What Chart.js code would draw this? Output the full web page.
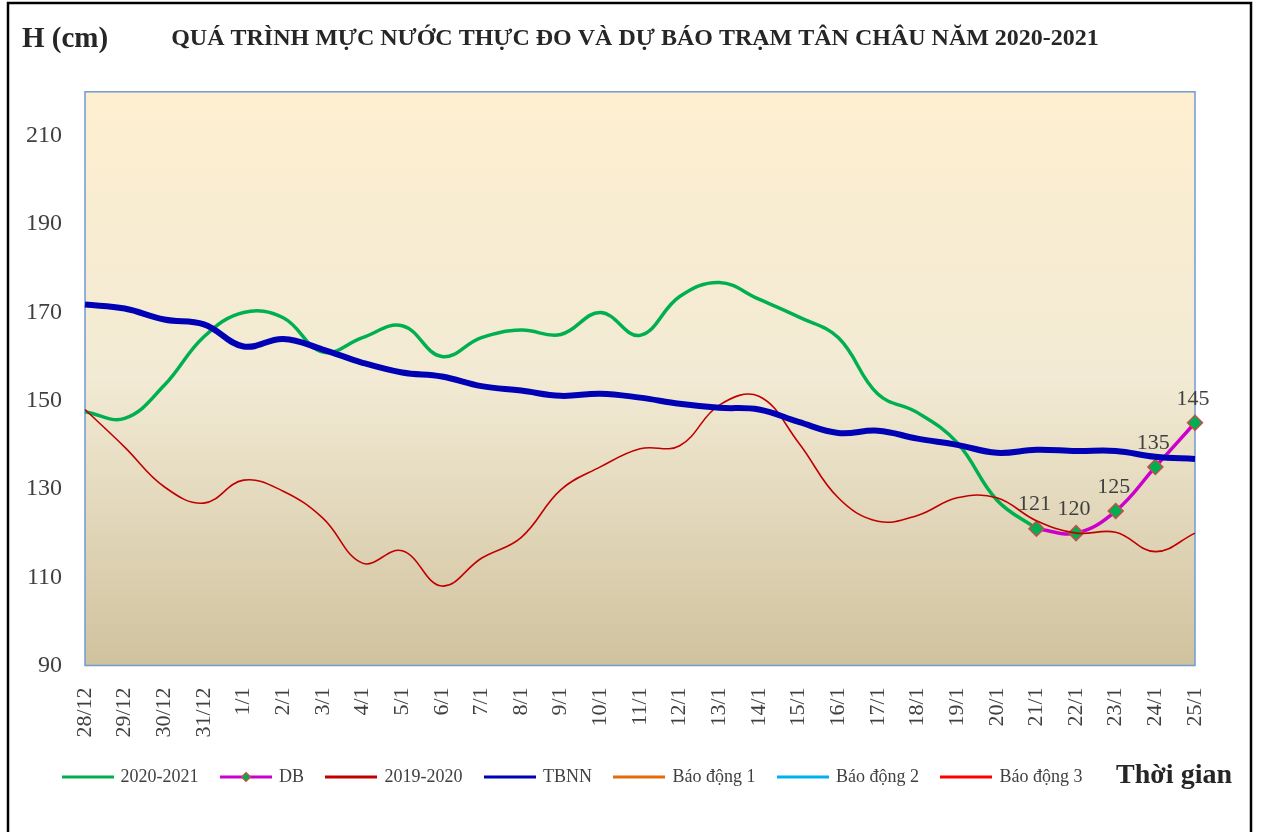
<!doctype html>
<html>
<head>
<meta charset="utf-8">
<title>Quá trình mực nước trạm Tân Châu 2020-2021</title>
<script src="https://cdn.jsdelivr.net/npm/chart.js"></script>
<style>
  html, body { margin: 0; padding: 0; background: #fff; }
  #wrap { width: 1261px; height: 832px; }
</style>
</head>
<body>
<div id="wrap"><canvas id="chart" width="1261" height="832"></canvas></div>

<script>
// Du lieu doc tu hinh (cm)
var days = ['28/12', '29/12', '30/12', '31/12', '1/1', '2/1', '3/1', '4/1', '5/1', '6/1',
            '7/1', '8/1', '9/1', '10/1', '11/1', '12/1', '13/1', '14/1', '15/1', '16/1',
            '17/1', '18/1', '19/1', '20/1', '21/1', '22/1', '23/1', '24/1', '25/1'];

var muaNay = [147.5, 146, 153.5, 164.5, 170, 168.8, 161, 164.3, 167, 160,
              164.3, 166, 165, 170, 164.8, 173.6, 176.8, 173, 169, 164.3,
              151.5, 147.3, 140.5, 127.5, 121, null, null, null, null];          // 2020-2021

var duBao = [null, null, null, null, null, null, null, null, null, null,
             null, null, null, null, null, null, null, null, null, null,
             null, null, null, null, 121, 120, 125, 135, 145];                   // DB

var muaTruoc = [148, 139.5, 130.5, 126.8, 132, 129.5, 123.4, 113.2, 116, 108,
                114.3, 119, 129.8, 135, 139.1, 139.8, 149, 151, 140.5, 128,
                122.7, 124, 128, 128, 122.8, 120, 120.2, 115.8, 120];           // 2019-2020

var tbnn = [171.8, 170.9, 168.4, 167.3, 162.3, 164, 161.6, 158.6, 156.4, 155.5,
            153.3, 152.3, 151.1, 151.6, 150.7, 149.3, 148.4, 148, 145.2, 142.7,
            143.2, 141.4, 140, 138.2, 138.9, 138.6, 138.6, 137.3, 136.8];

// bao dong: khong co diem nao trong khung 90-220, chi hien o chu giai
var baoDong1 = [], baoDong2 = [], baoDong3 = [];

var yTicks = [90, 110, 130, 150, 170, 190, 210];
var yMin = 90, yMax = 220;

var SERIF = '"Liberation Serif", "Times New Roman", serif';
var TEXT = '#404040';

// icon cho chu giai: doan thang, co the co hinh thoi
function legendIcon(color, marker) {
    var c = document.createElement('canvas');
    c.width = 52; c.height = 12;
    var g = c.getContext('2d');
    g.strokeStyle = color; g.lineWidth = 3;
    g.beginPath(); g.moveTo(0, 6); g.lineTo(52, 6); g.stroke();
    if (marker) {
        g.beginPath();
        g.moveTo(26, 1.5); g.lineTo(30.5, 6); g.lineTo(26, 10.5); g.lineTo(21.5, 6);
        g.closePath();
        g.fillStyle = '#00B050'; g.fill();
        g.strokeStyle = '#C0504D'; g.lineWidth = 1.2; g.stroke();
    }
    return c;
}

var colors = ['#00B050', '#CC00CC', '#C00000', '#0000B4', '#E46C0A', '#00B0F0', '#FF0000'];
var icons = colors.map(function (c, i) { return legendIcon(c, i == 1); });

// nen khung ve, vien ngoai, chu phu
var decor = {
    id: 'decor',
    beforeDraw: function (chart) {
        var ctx = chart.ctx, a = chart.chartArea;
        ctx.save();
        var grad = ctx.createLinearGradient(0, a.top, 0, a.bottom);
        grad.addColorStop(0, '#FEEFD0');
        grad.addColorStop(0.5, '#F2EAD4');
        grad.addColorStop(1, '#D0C29E');
        ctx.fillStyle = grad;
        ctx.fillRect(a.left, a.top, a.right - a.left, a.bottom - a.top);
        ctx.strokeStyle = '#6F9BD3'; ctx.lineWidth = 1.5;
        ctx.strokeRect(a.left, a.top, a.right - a.left, a.bottom - a.top);
        ctx.strokeStyle = '#000'; ctx.lineWidth = 2.5;
        ctx.strokeRect(8, 3, 1243, 840);
        ctx.restore();
    },
    afterDatasetsDraw: function (chart) {
        // nhan so lieu cho duong du bao
        var ctx = chart.ctx;
        var meta = chart.getDatasetMeta(1);
        ctx.save();
        ctx.font = '22px ' + SERIF;
        ctx.fillStyle = TEXT;
        ctx.textAlign = 'center';
        ctx.textBaseline = 'middle';
        meta.data.forEach(function (pt, i) {
            var v = duBao[i];
            if (v == null) return;
            ctx.fillText(String(v), pt.x - 2, pt.y - 24);
        });
        ctx.restore();
    },
    afterDraw: function (chart) {
        var ctx = chart.ctx, a = chart.chartArea;
        ctx.save();
        ctx.fillStyle = '#262626';
        ctx.textBaseline = 'middle';
        ctx.font = 'bold 29px ' + SERIF;
        ctx.textAlign = 'left';
        ctx.fillText('H (cm)', 22, 40);
        ctx.font = 'bold 28px ' + SERIF;
        ctx.textAlign = 'right';
        ctx.fillText('Thời gian', a.right + 37, chart.legend.top + 31);
        ctx.restore();
    }
};

var ctx = document.getElementById('chart').getContext('2d');
var chart = new Chart(ctx, {
    type: 'line',
    data: {
        labels: days,
        datasets: [
            { label: '2020-2021', data: muaNay, borderColor: colors[0], borderWidth: 3.5, pointRadius: 0, tension: 0.4, order: 0 },
            { label: 'DB', data: duBao, borderColor: colors[1], borderWidth: 3.5, tension: 0.4, order: -1,
              pointStyle: 'rectRot', pointRadius: 7.5, pointBackgroundColor: '#00B050',
              pointBorderColor: '#C0504D', pointBorderWidth: 1.5, clip: false },
            { label: '2019-2020', data: muaTruoc, borderColor: colors[2], borderWidth: 1.6, pointRadius: 0, tension: 0.4, order: -2 },
            { label: 'TBNN', data: tbnn, borderColor: colors[3], borderWidth: 6, pointRadius: 0, tension: 0.4, order: -3 },
            { label: 'Báo động 1', data: baoDong1, borderColor: colors[4], borderWidth: 2, pointRadius: 0, order: -4 },
            { label: 'Báo động 2', data: baoDong2, borderColor: colors[5], borderWidth: 2, pointRadius: 0, order: -5 },
            { label: 'Báo động 3', data: baoDong3, borderColor: colors[6], borderWidth: 2, pointRadius: 0, order: -6 }
        ]
    },
    options: {
        responsive: false,
        animation: false,
        devicePixelRatio: 1,
        layout: { padding: { left: 40, right: 31, top: 0, bottom: 36 } },
        plugins: {
            title: {
                display: true,
                text: 'QUÁ TRÌNH MỰC NƯỚC THỰC ĐO VÀ DỰ BÁO TRẠM TÂN CHÂU NĂM 2020-2021',
                color: '#262626',
                font: { family: SERIF, size: 24, weight: 'bold' },
                padding: { top: 24, bottom: 39 }
            },
            legend: {
                position: 'bottom',
                align: 'start',
                labels: {
                    usePointStyle: true,
                    pointStyleWidth: 48,
                    padding: 23.5,
                    color: TEXT,
                    font: { family: SERIF, size: 18 },
                    sort: function (a, b) { return a.datasetIndex - b.datasetIndex; },
                    generateLabels: function (chart) {
                        var items = Chart.defaults.plugins.legend.labels.generateLabels(chart);
                        items.forEach(function (it) { it.pointStyle = icons[it.datasetIndex]; });
                        return items;
                    }
                }
            },
            tooltip: { enabled: false }
        },
        scales: {
            x: {
                offset: false,
                grid: { display: false, drawTicks: false },
                border: { display: false },
                ticks: {
                    autoSkip: false, maxRotation: 90, minRotation: 90, padding: 22,
                    color: TEXT, font: { family: SERIF, size: 22 }
                },
                afterFit: function (s) { s.height = 79; }
            },
            y: {
                min: yMin, max: yMax,
                grid: { display: false, drawTicks: false },
                border: { display: false },
                ticks: { padding: 23, color: TEXT, font: { family: SERIF, size: 24 } },
                afterBuildTicks: function (s) { s.ticks = yTicks.map(function (v) { return { value: v }; }); },
                afterFit: function (s) {
                    s.width = 45;
                    // nhan truc y rong hon hop truc, khong cat
                    s._computeLabelArea = function () { return undefined; };
                }
            },
            yR: {
                position: 'right',
                grid: { display: false, drawTicks: false },
                border: { display: false },
                ticks: { display: false },
                afterFit: function (s) { s.width = 35; }
            }
        }
    },
    plugins: [decor]
});
</script>
</body>
</html>
